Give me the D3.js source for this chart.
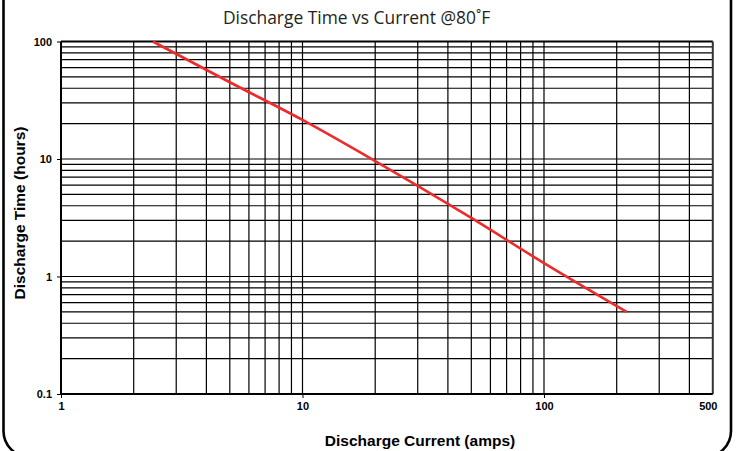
<!DOCTYPE html>
<html><head><meta charset="utf-8">
<script src="https://cdn.jsdelivr.net/npm/d3@7"></script>
<style>body{margin:0;background:#fff}svg{display:block}</style>
</head><body>
<svg id="c" width="738" height="451"></svg>
<script>
const currents = [2.4, 5, 10, 20, 50, 100, 220];
const hours = [100, 45, 21.5, 9.6, 3.15, 1.3, 0.5];
const xTickLabels = [1, 10, 100, 500];
const yTickLabels = [0.1, 1, 10, 100];
const xGrid = [2,3,4,5,6,7,8,9,10,20,30,40,50,60,70,80,90,100,200,300,400];
const yGrid = [0.2,0.3,0.4,0.5,0.6,0.7,0.8,0.9,1,2,3,4,5,6,7,8,9,10,20,30,40,50,60,70,80,90];

const svg = d3.select("#c");
const L = 61, R = 712.8, T = 41.5, B = 394;
const x = d3.scaleLog().domain([1, 500]).range([L, R]);
const y = d3.scaleLog().domain([0.1, 100]).range([B, T]);

// frame
svg.append("rect").attr("x", 3.5).attr("y", -40).attr("width", 727.5).attr("height", 497)
  .attr("rx", 26).attr("fill", "none").attr("stroke", "#000").attr("stroke-width", 2.6);

// title
svg.append("text").attr("x", 356.5).attr("y", 24).attr("text-anchor", "middle")
  .attr("font-family", "Open Sans, sans-serif").attr("font-size", 17.4).attr("fill", "#231f20")
  .text("Discharge Time vs Current @80˚F");

const g = svg.append("g");
g.selectAll("line.vg").data(xGrid).join("line").attr("class", "vg")
  .attr("x1", d => x(d)).attr("x2", d => x(d)).attr("y1", T).attr("y2", B)
  .attr("stroke", "#000").attr("stroke-width", 1.2);
g.selectAll("line.hg").data(yGrid).join("line").attr("class", "hg")
  .attr("y1", d => y(d)).attr("y2", d => y(d)).attr("x1", L).attr("x2", R)
  .attr("stroke", "#000").attr("stroke-width", 1.2);

// plot border
g.append("line").attr("x1", L).attr("x2", R).attr("y1", T).attr("y2", T).attr("stroke", "#000").attr("stroke-width", 2);
g.append("line").attr("x1", R).attr("x2", R).attr("y1", T).attr("y2", B).attr("stroke", "#333").attr("stroke-width", 2);

// axes
const xAxis = d3.axisBottom(x).tickValues(xTickLabels).tickSize(4).tickPadding(4).tickFormat(d3.format("d"));
const yAxis = d3.axisLeft(y).tickValues(yTickLabels).tickSize(4).tickPadding(5).tickFormat(d => d < 1 ? "0.1" : String(d));
const xa = svg.append("g").attr("transform", `translate(0,${B})`).call(xAxis);
const ya = svg.append("g").attr("transform", `translate(${L},0)`).call(yAxis);
[xa, ya].forEach(a => {
  a.select(".domain").attr("stroke", "#000").attr("stroke-width", 2);
  a.selectAll(".tick line").attr("stroke", "#000").attr("stroke-width", 1);
  a.selectAll("text").attr("font-family", "Liberation Sans, Arial, sans-serif")
    .attr("font-weight", "bold").attr("font-size", 11).attr("fill", "#000");
});
xa.selectAll(".tick").filter(d => d === 500).select("line").remove();
xa.selectAll(".tick").filter(d => d === 500).select("text").attr("dx", -5);
xa.select(".domain").attr("d", `M${L},0H${R}`);
ya.select(".domain").attr("d", `M0,${B}V${T}`);

// line
const line = d3.line().x(d => x(d[0])).y(d => y(d[1])).curve(d3.curveMonotoneX);
svg.append("path").datum(currents.map((c, i) => [c, hours[i]]))
  .attr("d", line).attr("fill", "none").attr("stroke", "#ee2a2a").attr("stroke-width", 2.6);

// axis titles
svg.append("text").attr("x", 420).attr("y", 446).attr("text-anchor", "middle")
  .attr("font-family", "Liberation Sans, Arial, sans-serif").attr("font-weight", "bold")
  .attr("font-size", 15.5).attr("fill", "#000").text("Discharge Current (amps)");
svg.append("text").attr("transform", "translate(25,213) rotate(-90)").attr("text-anchor", "middle")
  .attr("font-family", "Liberation Sans, Arial, sans-serif").attr("font-weight", "bold")
  .attr("font-size", 15.5).attr("fill", "#000").text("Discharge Time (hours)");
</script>
</body></html>
